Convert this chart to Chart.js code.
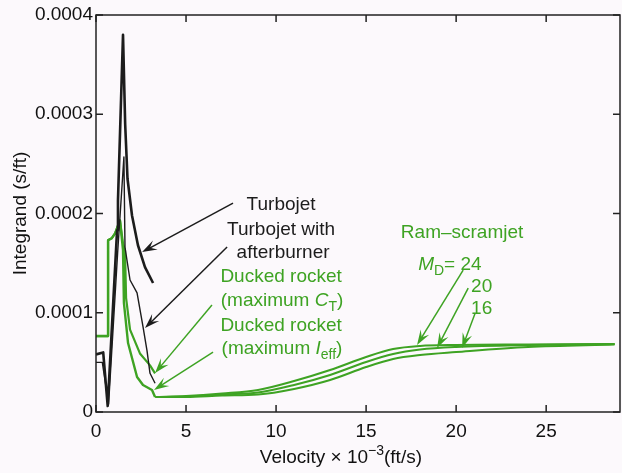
<!DOCTYPE html>
<html>
<head>
<meta charset="utf-8">
<script src="https://cdn.jsdelivr.net/npm/chart.js@4.4.1/dist/chart.umd.min.js"></script>
<style>
  html, body { margin: 0; padding: 0; background: #fcf9fc; }
  canvas { display: block; }
</style>
</head>
<body>
<canvas id="chart" width="622" height="473"></canvas>
<script>
// axis ticks
const xTicks = [0, 5, 10, 15, 20, 25];
const yTicks = [0, 0.0001, 0.0002, 0.0003, 0.0004];

// velocity x 10^-3 (ft/s) / integrand (s/ft)
const turbojetX = [0, 0.4, 0.65, 1.17, 1.22, 1.5, 1.62, 1.75, 2.0, 2.33, 2.72, 3.17];
const turbojetY = [5.8e-5, 6.0e-5, 0.6e-5, 1.83e-4, 2.13e-4, 3.8e-4, 2.9e-4, 2.35e-4, 1.98e-4, 1.68e-4, 1.46e-4, 1.3e-4];

const afterburnerX = [0, 0.35, 0.7, 1.2, 1.55, 1.61, 1.89, 2.28, 2.61, 2.83, 3.0, 3.28];
const afterburnerY = [5.0e-5, 5.0e-5, 0.8e-5, 1.6e-4, 2.57e-4, 1.66e-4, 1.33e-4, 1.2e-4, 8.6e-5, 6.2e-5, 3.9e-5, 2.9e-5];

const rocketCtX = [0, 0.67, 0.67, 0.87, 1.06, 1.33, 1.5, 1.61, 1.67, 1.89, 2.44, 3.0, 3.28];
const rocketCtY = [7.65e-5, 7.65e-5, 1.73e-4, 1.75e-4, 1.8e-4, 1.93e-4, 1.7e-4, 1.63e-4, 1.15e-4, 8.3e-5, 5.9e-5, 4.7e-5, 3.9e-5];

const rocketIeffX = [0, 0.67, 0.67, 0.87, 1.06, 1.33, 1.5, 1.55, 1.78, 2.28, 2.61, 3.11, 3.28];
const rocketIeffY = [7.65e-5, 7.65e-5, 1.73e-4, 1.75e-4, 1.8e-4, 1.93e-4, 1.63e-4, 1.1e-4, 6.95e-5, 3.53e-5, 2.72e-5, 2.22e-5, 1.51e-5];

const ramX = [3.3, 5, 7, 9, 11, 13, 15, 16.5, 18, 20, 24, 28.8];
const ram24Y = [1.51e-5, 1.61e-5, 1.86e-5, 2.22e-5, 3.12e-5, 4.23e-5, 5.54e-5, 6.34e-5, 6.65e-5, 6.75e-5, 6.8e-5, 6.85e-5];
const ram20Y = [1.51e-5, 1.56e-5, 1.76e-5, 1.96e-5, 2.72e-5, 3.73e-5, 5.04e-5, 5.84e-5, 6.29e-5, 6.55e-5, 6.75e-5, 6.85e-5];
const ram16Y = [1.51e-5, 1.51e-5, 1.66e-5, 1.76e-5, 2.32e-5, 3.22e-5, 4.53e-5, 5.34e-5, 5.74e-5, 6.04e-5, 6.55e-5, 6.8e-5];

const BLACK = '#1c1c1c';
const GREEN = '#3ea323';
const FONT = '"Liberation Sans", Arial, sans-serif';

const pts = (xs, ys) => xs.map((x, i) => ({ x: x, y: ys[i] }));

// labels and arrows, placed in data units
const notes = [
  { segs: [{ t: 'Turbojet' }], x: 10.28, y: 2.085e-4, c: BLACK },
  { segs: [{ t: 'Turbojet with' }], x: 10.28, y: 1.833e-4, c: BLACK },
  { segs: [{ t: 'afterburner' }], x: 10.39, y: 1.601e-4, c: BLACK },
  { segs: [{ t: 'Ducked rocket' }], x: 10.28, y: 1.36e-4, c: GREEN },
  { segs: [{ t: '(maximum ' }, { t: 'C', it: true }, { t: 'T', sub: true }, { t: ')' }], x: 10.33, y: 1.118e-4, c: GREEN },
  { segs: [{ t: 'Ducked rocket' }], x: 10.28, y: 0.866e-4, c: GREEN },
  { segs: [{ t: '(maximum ' }, { t: 'I', it: true }, { t: 'eff', sub: true }, { t: ')' }], x: 10.33, y: 0.634e-4, c: GREEN },
  { segs: [{ t: 'Ram\u2013scramjet' }], x: 20.33, y: 1.803e-4, c: GREEN },
  { segs: [{ t: 'M', it: true }, { t: 'D', sub: true }, { t: '= 24' }], x: 17.89, y: 1.48e-4, c: GREEN, align: 'left' },
  { segs: [{ t: '20' }], x: 20.83, y: 1.259e-4, c: GREEN, align: 'left' },
  { segs: [{ t: '16' }], x: 20.83, y: 1.037e-4, c: GREEN, align: 'left' }
];

const arrows = [
  { from: [7.61, 2.105e-4], to: [2.56, 1.611e-4], c: BLACK },
  { from: [7.28, 1.662e-4], to: [2.72, 0.846e-4], c: BLACK },
  { from: [6.44, 1.078e-4], to: [3.28, 0.393e-4], c: GREEN },
  { from: [6.5, 0.604e-4], to: [3.22, 0.222e-4], c: GREEN },
  { from: [20.39, 1.43e-4], to: [17.83, 0.675e-4], c: GREEN },
  { from: [20.67, 1.249e-4], to: [18.94, 0.645e-4], c: GREEN },
  { from: [21.06, 0.997e-4], to: [20.33, 0.645e-4], c: GREEN }
];

function drawRich(ctx, segs, x, y, align, color) {
  const parts = segs.map(s => {
    const size = (s.sub || s.sup) ? 14 : 19;
    const f = (s.it ? 'italic ' : '') + size + 'px ' + FONT;
    ctx.font = f;
    return Object.assign({}, s, { f: f, w: ctx.measureText(s.t).width });
  });
  const total = parts.reduce((a, p) => a + p.w, 0);
  let cx = align === 'left' ? x : x - total / 2;
  ctx.fillStyle = color;
  ctx.textAlign = 'left';
  ctx.textBaseline = 'middle';
  parts.forEach(p => {
    ctx.font = p.f;
    ctx.fillText(p.t, cx, y + (p.sub ? 6 : p.sup ? -7 : 0));
    cx += p.w;
  });
}

function drawArrow(ctx, x1, y1, x2, y2, color) {
  const dx = x2 - x1, dy = y2 - y1;
  const len = Math.hypot(dx, dy);
  const ux = dx / len, uy = dy / len;
  const nx = -uy, ny = ux;
  const L = 15, W = 5;
  ctx.strokeStyle = color;
  ctx.fillStyle = color;
  ctx.lineWidth = 1.5;
  ctx.beginPath();
  ctx.moveTo(x1, y1);
  ctx.lineTo(x2 - ux * 8, y2 - uy * 8);
  ctx.stroke();
  ctx.beginPath();
  ctx.moveTo(x2, y2);
  ctx.lineTo(x2 - ux * L + nx * W, y2 - uy * L + ny * W);
  ctx.lineTo(x2 - ux * L * 0.6, y2 - uy * L * 0.6);
  ctx.lineTo(x2 - ux * L - nx * W, y2 - uy * L - ny * W);
  ctx.closePath();
  ctx.fill();
}

const extras = {
  id: 'extras',
  afterDatasetsDraw(chart) {
    const { ctx, chartArea: a, scales: { x, y } } = chart;
    ctx.save();
    ctx.strokeStyle = '#222';
    ctx.lineWidth = 1.5;
    ctx.strokeRect(a.left, a.top, a.right - a.left, a.bottom - a.top);
    ctx.beginPath();
    x.ticks.forEach(t => {
      const px = x.getPixelForValue(t.value);
      ctx.moveTo(px, a.bottom); ctx.lineTo(px, a.bottom - 7);
      ctx.moveTo(px, a.top); ctx.lineTo(px, a.top + 7);
    });
    y.ticks.forEach(t => {
      const py = y.getPixelForValue(t.value);
      ctx.moveTo(a.left, py); ctx.lineTo(a.left + 7, py);
      ctx.moveTo(a.right, py); ctx.lineTo(a.right - 7, py);
    });
    ctx.stroke();

    arrows.forEach(r => {
      drawArrow(ctx, x.getPixelForValue(r.from[0]), y.getPixelForValue(r.from[1]),
        x.getPixelForValue(r.to[0]), y.getPixelForValue(r.to[1]), r.c);
    });
    notes.forEach(n => {
      drawRich(ctx, n.segs, x.getPixelForValue(n.x), y.getPixelForValue(n.y), n.align || 'center', n.c);
    });

    // x axis title with superscript
    drawRich(ctx, [{ t: 'Velocity \u00d7 10' }, { t: '\u22123', sup: true }, { t: '(ft/s)' }],
      x.getPixelForValue(13.6), a.bottom + 46, 'center', '#111');
    ctx.restore();
  }
};

new Chart(document.getElementById('chart'), {
  type: 'line',
  data: {
    datasets: [
      { label: 'Turbojet', data: pts(turbojetX, turbojetY), borderColor: BLACK, borderWidth: 2.6 },
      { label: 'Turbojet with afterburner', data: pts(afterburnerX, afterburnerY), borderColor: BLACK, borderWidth: 1.4 },
      { label: 'Ducked rocket (maximum CT)', data: pts(rocketCtX, rocketCtY), borderColor: GREEN, borderWidth: 2.2 },
      { label: 'Ducked rocket (maximum Ieff)', data: pts(rocketIeffX, rocketIeffY), borderColor: GREEN, borderWidth: 2.4 },
      { label: 'Ram-scramjet MD=24', data: pts(ramX, ram24Y), borderColor: GREEN, borderWidth: 2, cubicInterpolationMode: 'monotone' },
      { label: 'Ram-scramjet MD=20', data: pts(ramX, ram20Y), borderColor: GREEN, borderWidth: 2, cubicInterpolationMode: 'monotone' },
      { label: 'Ram-scramjet MD=16', data: pts(ramX, ram16Y), borderColor: GREEN, borderWidth: 2, cubicInterpolationMode: 'monotone' }
    ]
  },
  options: {
    responsive: false,
    animation: false,
    devicePixelRatio: 1,
    layout: { padding: { top: 15, right: 2, left: 0, bottom: 0 } },
    plugins: { legend: { display: false }, tooltip: { enabled: false } },
    elements: { point: { radius: 0 }, line: { tension: 0, borderJoinStyle: 'round' } },
    scales: {
      x: {
        type: 'linear',
        min: 0,
        max: 29.1,
        afterBuildTicks: s => { s.ticks = xTicks.map(v => ({ value: v })); },
        afterFit: s => { s.height = 61; },
        grid: { display: false, drawTicks: false },
        border: { display: false },
        ticks: { color: '#111', font: { family: FONT, size: 19 }, padding: 8, maxRotation: 0 }
      },
      y: {
        type: 'linear',
        min: 0,
        max: 0.0004,
        afterBuildTicks: s => { s.ticks = yTicks.map(v => ({ value: v })); },
        afterFit: s => { s.width = 96; },
        grid: { display: false, drawTicks: false },
        border: { display: false },
        ticks: {
          color: '#111',
          font: { family: FONT, size: 19 },
          padding: 3,
          callback: v => (v === 0 ? '0' : v.toFixed(4))
        },
        title: {
          display: true,
          text: 'Integrand (s/ft)',
          color: '#111',
          font: { family: FONT, size: 19 },
          padding: { top: 9 }
        }
      }
    }
  },
  plugins: [extras]
});
</script>
</body>
</html>
